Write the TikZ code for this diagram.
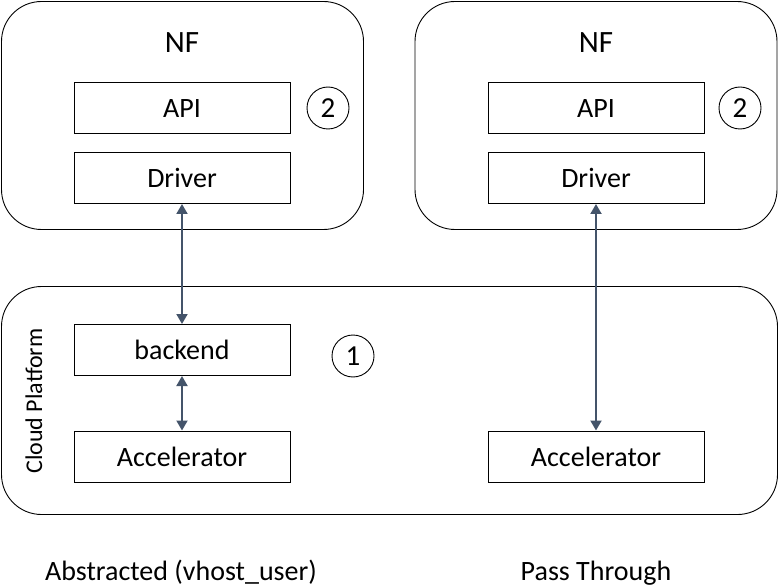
\documentclass[tikz,border=0pt]{standalone}
\usepackage{fontspec}
\setmainfont{Carlito}
\usetikzlibrary{arrows.meta}
\definecolor{arrowcol}{HTML}{44546A}
\begin{document}
\begin{tikzpicture}[x=1pt,y=-1pt,
  every node/.style={font=\fontsize{28}{32}\selectfont, inner sep=0pt},
  panel/.style={draw=black, line width=0.9pt, rounded corners=40pt},
  layerbox/.style={draw=black, line width=1pt, minimum width=216pt, minimum height=51pt},
  marker/.style={draw=black, line width=0.9pt, circle, minimum size=42pt, inner sep=0pt, font=\fontsize{29}{32}\selectfont},
  title/.style={font=\fontsize{31}{34}\selectfont},
  link/.style={draw=arrowcol, line width=2pt, {Triangle[width=11pt,length=10pt]}-{Triangle[width=11pt,length=10pt]}}
]
\useasboundingbox (0,0) rectangle (779,588);
% panels
\node[panel, minimum width=362pt, minimum height=228pt] (nfL) at (182.5,115.5) {};
\node[panel, minimum width=362pt, minimum height=228pt] (nfR) at (596,115.5) {};
\node[panel, minimum width=776pt, minimum height=228pt] (cloud) at (389.5,400.5) {};
% titles
\node[title] (nfLt) at (182,43) {NF};
\node[title] (nfRt) at (596,43) {NF};
\node[rotate=90, font=\fontsize{24}{28}\selectfont] (cp) at (34,401) {Cloud Platform};
% left column
\node[layerbox] (apiL) at (182,108.5) {API};
\node[layerbox] (drvL) at (182,178) {Driver};
\node[layerbox] (bk) at (182,350) {backend};
\node[layerbox] (accL) at (182,456.5) {Accelerator};
% right column
\node[layerbox] (apiR) at (596,108.5) {API};
\node[layerbox] (drvR) at (596,178) {Driver};
\node[layerbox] (accR) at (596,456.5) {Accelerator};
% markers
\node[marker] (m2L) at (328,108) {2};
\node[marker] (m2R) at (740,108) {2};
\node[marker] (m1) at (353,356) {1};
% connectors
\draw[link] (drvL.south) -- (bk.north);
\draw[link] (bk.south) -- (accL.north);
\draw[link] (drvR.south) -- (accR.north);
% captions
\node (capL) at (181,572) {Abstracted (vhost\_user)};
\node (capR) at (596,573) {Pass Through};
\end{tikzpicture}
\end{document}
